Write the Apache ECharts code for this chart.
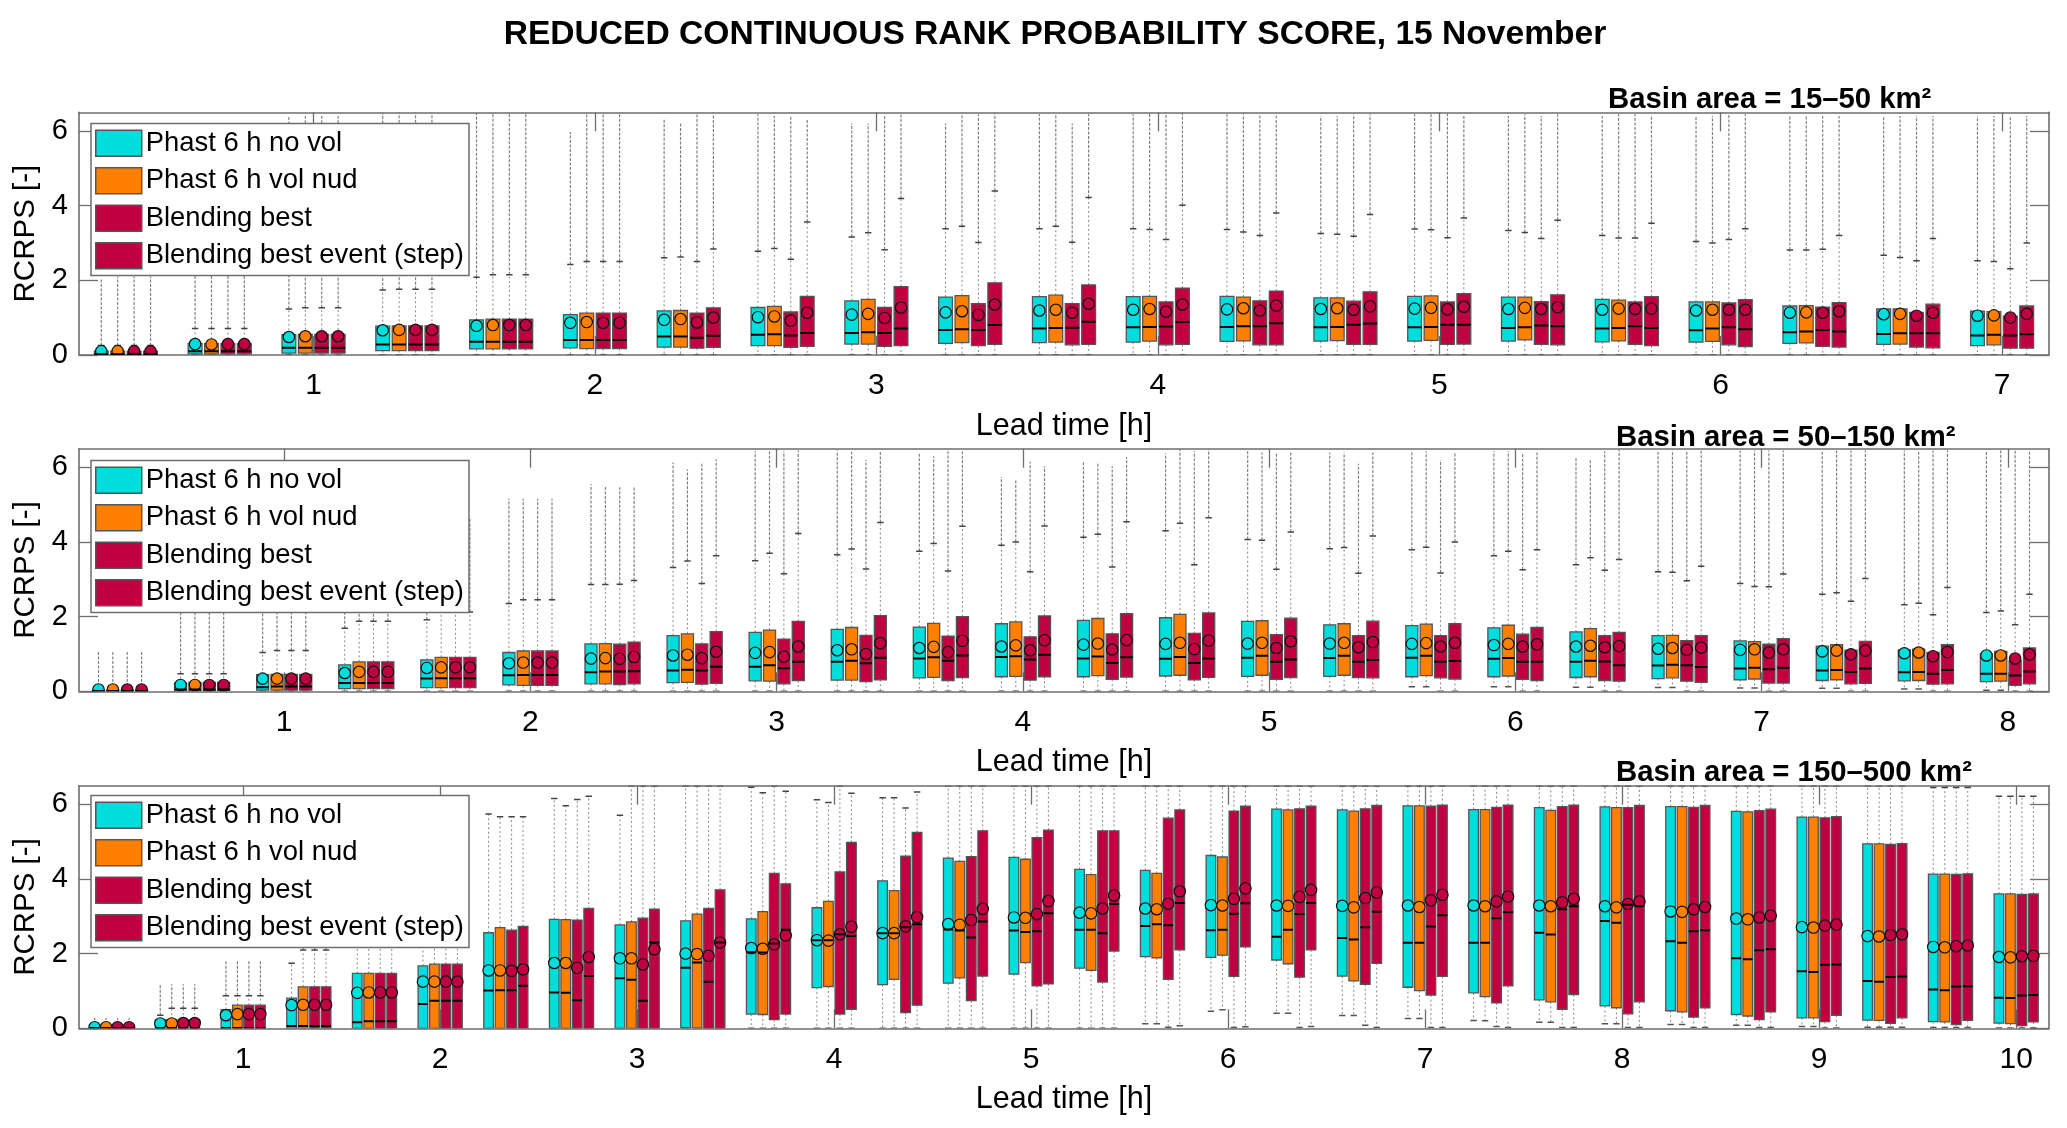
<!DOCTYPE html>
<html><head><meta charset="utf-8">
<style>html,body{margin:0;padding:0;background:#fff}#c{width:2067px;height:1128px}</style>
<script src="https://cdn.jsdelivr.net/npm/echarts@6/dist/echarts.min.js"></script>
</head><body><div id="c"></div>
<script>
const chartTitle="REDUCED CONTINUOUS RANK PROBABILITY SCORE, 15 November";
const methods=["Phast 6 h no vol","Phast 6 h vol nud","Blending best","Blending best event (step)"];
const methodColors=["#00DDDD","#FF8000","#C00040","#C00040"];
const basinLabels=["Basin area = 15–50 km²","Basin area = 50–150 km²","Basin area = 150–500 km²"];
const hours1=[1,2,3,4,5,6,7];
const hours2=[1,2,3,4,5,6,7,8];
const hours3=[1,2,3,4,5,6,7,8,9,10];
const yTicks=[0,2,4,6];

// ---------- Panel 1: one row per lead time step (20 min), four methods in each row
const p1_q1=[[0,0,0,0],[.03,.03,.03,.03],[.05,.05,.05,.05],[.115,.115,.115,.115],[.16,.16,.16,.16],[.19,.17,.17,.17],[.21,.21,.18,.2],[.25,.25,.2,.23],[.29,.29,.23,.25],[.31,.33,.25,.28],[.33,.34,.27,.28],[.34,.37,.27,.28],[.36,.375,.27,.27],[.37,.38,.28,.28],[.37,.39,.28,.29],[.37,.4,.28,.27],[.35,.375,.28,.25],[.34,.36,.27,.22],[.31,.32,.23,.21],[.28,.29,.21,.19],[.25,.27,.18,.18]];
const p1_med=[[.02,.02,.02,.02],[.1,.1,.1,.1],[.19,.19,.19,.19],[.28,.28,.28,.28],[.35,.35,.35,.35],[.4,.4,.4,.4],[.49,.49,.46,.51],[.54,.55,.52,.59],[.59,.61,.59,.71],[.67,.69,.67,.8],[.71,.72,.73,.89],[.74,.75,.76,.88],[.75,.77,.77,.85],[.74,.75,.81,.84],[.74,.75,.81,.81],[.72,.74,.79,.77],[.71,.72,.77,.72],[.66,.71,.74,.69],[.61,.63,.67,.63],[.56,.58,.58,.58],[.52,.54,.52,.55]];
const p1_q3=[[.1,.1,.1,.1],[.31,.3,.3,.3],[.54,.55,.55,.55],[.77,.78,.78,.78],[.94,.96,.96,.96],[1.08,1.12,1.12,1.12],[1.18,1.19,1.12,1.26],[1.27,1.3,1.15,1.57],[1.45,1.49,1.27,1.83],[1.55,1.59,1.37,1.93],[1.56,1.6,1.375,1.875],[1.56,1.57,1.42,1.79],[1.57,1.55,1.45,1.71],[1.53,1.53,1.44,1.69],[1.57,1.58,1.42,1.64],[1.55,1.55,1.43,1.61],[1.49,1.47,1.42,1.56],[1.42,1.42,1.39,1.48],[1.31,1.32,1.28,1.4],[1.23,1.23,1.14,1.36],[1.17,1.16,1.04,1.31]];
const p1_mean=[[.1,.1,.1,.1],[.29,.28,.29,.29],[.48,.5,.5,.5],[.66,.67,.67,.67],[.78,.8,.8,.8],[.86,.88,.86,.86],[.94,.96,.87,1.0],[1.01,1.03,.92,1.13],[1.08,1.1,.99,1.27],[1.14,1.17,1.07,1.35],[1.19,1.21,1.13,1.37],[1.21,1.23,1.16,1.35],[1.22,1.25,1.19,1.32],[1.23,1.25,1.21,1.3],[1.24,1.26,1.22,1.29],[1.23,1.26,1.23,1.28],[1.21,1.24,1.23,1.24],[1.19,1.21,1.21,1.21],[1.13,1.14,1.13,1.17],[1.09,1.1,1.05,1.13],[1.05,1.06,1.0,1.1]];
const p1_lo=[[0,0,0,0],[0,0,0,0],[0,0,0,0],[0,0,0,0],[0,0,0,0],[0,0,0,0],[0,0,0,0],[0,0,0,0],[0,0,0,0],[0,0,0,0],[0,0,0,0],[0,0,0,0],[0,0,0,0],[0,0,0,0],[0,0,0,0],[0,0,0,0],[0,0,0,0],[0,0,0,0],[0,0,0,0],[0,0,0,0],[0,0,0,0]];
const p1_wh=[[.25,.25,.25,.25],[.71,.71,.71,.71],[1.23,1.26,1.26,1.26],[1.74,1.76,1.76,1.76],[2.08,2.15,2.15,2.15],[2.42,2.5,2.5,2.5],[2.6,2.62,2.5,2.84],[2.78,2.85,2.56,3.56],[3.16,3.27,2.82,4.19],[3.38,3.45,3.01,4.39],[3.38,3.45,3.02,4.22],[3.38,3.36,3.09,4.01],[3.36,3.29,3.2,3.8],[3.25,3.23,3.18,3.76],[3.37,3.35,3.14,3.67],[3.33,3.28,3.12,3.61],[3.2,3.13,3.13,3.53],[3.04,3.0,3.09,3.38],[2.81,2.81,2.83,3.2],[2.67,2.61,2.52,3.12],[2.52,2.5,2.31,3.0]];
const p1_top=[[2.05,2.1,2.1,2.1],[2.9,2.9,2.9,2.9],[6.4,6.4,6.4,6.4],[6.5,6.5,6.5,6.5],[6.5,6.5,6.5,6.5],[5.97,6.5,6.5,6.5],[6.3,6.2,6.5,6.5],[6.45,6.4,6.4,6.3],[6.2,6.2,6.4,6.45],[6.2,6.5,6.45,6.5],[6.45,6.45,6.2,6.45],[6.45,6.5,6.5,6.5],[6.45,6.45,6.45,6.45],[6.4,6.4,6.45,6.45],[6.45,6.5,6.5,6.4],[6.4,6.45,6.4,6.45],[6.4,6.45,6.45,6.4],[6.4,6.4,6.45,6.45],[6.4,6.4,6.4,6.4],[6.4,6.4,6.4,6.4],[6.4,6.4,6.4,6.4]];

// ---------- Panel 2
const p2_q1=[[0,0,0,0],[.01,.01,.01,.01],[.03,.03,.03,.03],[.07,.07,.07,.07],[.1,.1,.1,.1],[.17,.16,.16,.16],[.2,.2,.18,.2],[.23,.24,.19,.21],[.28,.27,.2,.29],[.3,.3,.26,.31],[.36,.375,.29,.37],[.39,.4,.3,.39],[.39,.42,.32,.38],[.41,.43,.31,.375],[.4,.43,.32,.37],[.4,.43,.37,.36],[.39,.42,.36,.33],[.39,.41,.32,.29],[.37,.39,.29,.27],[.34,.36,.27,.24],[.31,.33,.22,.22],[.29,.31,.2,.21],[.28,.29,.19,.2],[.26,.27,.16,.2]];
const p2_med=[[.01,.01,.01,.01],[.045,.045,.045,.045],[.11,.13,.13,.13],[.22,.22,.22,.22],[.34,.35,.35,.35],[.43,.44,.44,.44],[.51,.53,.53,.54],[.56,.58,.56,.66],[.66,.7,.62,.79],[.79,.82,.75,.9],[.88,.91,.82,.96],[.92,.94,.85,.98],[.88,.93,.76,.91],[.875,.92,.76,.88],[.9,.955,.79,.85],[.89,.955,.79,.84],[.9,.95,.79,.81],[.87,.89,.79,.79],[.79,.82,.8,.7],[.69,.71,.7,.65],[.61,.63,.59,.63],[.56,.57,.52,.61],[.51,.52,.47,.57],[.47,.47,.42,.53]];
const p2_q3=[[.03,.03,.03,.03],[.22,.24,.24,.24],[.445,.45,.45,.45],[.71,.79,.79,.79],[.84,.91,.91,.91],[1.04,1.08,1.08,1.08],[1.27,1.28,1.26,1.32],[1.49,1.54,1.27,1.6],[1.58,1.64,1.4,1.875],[1.66,1.71,1.5,2.03],[1.72,1.82,1.48,2.0],[1.81,1.86,1.46,2.02],[1.9,1.95,1.54,2.08],[1.97,2.06,1.55,2.1],[1.875,1.89,1.52,1.96],[1.78,1.81,1.49,1.88],[1.76,1.8,1.49,1.81],[1.7,1.77,1.53,1.71],[1.59,1.68,1.49,1.58],[1.49,1.5,1.36,1.49],[1.35,1.33,1.26,1.41],[1.21,1.25,1.1,1.34],[1.11,1.13,1.04,1.25],[1.0,1.07,.82,1.16]];
const p2_mean=[[.05,.05,.05,.05],[.17,.17,.17,.17],[.34,.34,.34,.34],[.49,.52,.52,.52],[.625,.64,.64,.64],[.75,.77,.77,.77],[.875,.89,.87,.92],[.96,.98,.89,1.06],[1.03,1.05,.93,1.2],[1.1,1.125,1.0,1.29],[1.16,1.19,1.05,1.35],[1.2,1.23,1.1,1.37],[1.25,1.28,1.12,1.37],[1.27,1.3,1.13,1.36],[1.28,1.3,1.16,1.34],[1.28,1.3,1.18,1.32],[1.27,1.29,1.2,1.3],[1.24,1.27,1.2,1.26],[1.2,1.22,1.18,1.21],[1.14,1.16,1.11,1.17],[1.11,1.125,1.04,1.125],[1.07,1.09,.99,1.09],[1.02,1.04,.94,1.05],[.96,.96,.88,.99]];
const p2_lo=[[0,0,0,0],[0,0,0,0],[0,0,0,0],[0,0,0,0],[0,0,0,0],[0,0,0,0],[0,0,0,0],[0,0,0,0],[0,0,0,0],[0,0,0,0],[0,0,0,0],[0,0,0,0],[0,0,0,0],[0,0,0,0],[0,0,0,0],[0,0,0,0],[.12,.12,0,0],[.12,.12,0,0],[.11,.11,0,0],[.1,.1,0,0],[.09,.09,0,0],[.08,.08,0,0],[.06,.06,0,0],[.03,.03,0,0]];
const p2_wh=[[.13,.13,.13,.13],[.47,.47,.47,.47],[1.04,1.09,1.09,1.09],[1.69,1.88,1.88,1.88],[1.92,2.125,2.125,2.125],[2.35,2.45,2.45,2.45],[2.86,2.86,2.87,2.97],[3.32,3.49,2.89,3.63],[3.5,3.7,3.15,4.23],[3.66,3.81,3.28,4.52],[3.75,3.96,3.22,4.42],[3.91,4.0,3.2,4.43],[4.13,4.21,3.33,4.54],[4.3,4.5,3.39,4.65],[4.07,4.05,3.27,4.27],[3.82,3.85,3.16,4.16],[3.79,3.86,3.17,4.0],[3.63,3.75,3.26,3.79],[3.39,3.58,3.24,3.53],[3.2,3.19,2.96,3.35],[2.89,2.81,2.8,3.14],[2.6,2.64,2.41,3.02],[2.32,2.36,2.05,2.78],[2.11,2.15,1.78,2.6]];
const p2_top=[[1.07,1.07,1.07,1.07],[2.7,2.7,2.7,2.7],[3.9,3.9,3.9,3.9],[3.9,3.9,3.9,3.9],[4.6,4.6,4.6,4.64],[5.16,5.16,5.16,5.16],[5.55,5.49,5.47,5.49],[6.13,5.94,6.1,6.22],[6.43,6.45,6.43,6.45],[6.45,6.45,6.2,6.45],[6.38,6.3,6.43,6.43],[5.74,5.67,6.15,6.03],[6.15,6.14,6.03,6.28],[6.38,6.47,6.43,6.49],[6.43,6.4,6.4,6.4],[6.4,6.4,6.1,6.4],[6.43,6.43,6.2,6.4],[6.43,6.43,6.4,6.4],[6.25,6.22,6.43,6.47],[6.45,6.45,6.45,6.45],[6.45,6.45,6.45,6.45],[6.45,6.45,6.45,6.45],[6.45,6.45,6.45,6.45],[6.45,6.45,6.45,6.45]];

// ---------- Panel 3
const p3_q1=[[0,0,0,0],[0,0,0,0],[0,0,0,0],[0,0,0,0],[0,0,0,0],[0,0,0,0],[0,0,0,0],[0,0,0,0],[0,0,0,0],[.02,.01,0,0],[.38,.37,.23,.38],[1.09,1.12,.38,.51],[1.17,1.31,.42,.62],[1.21,1.35,.74,1.4],[1.45,1.76,1.14,1.19],[1.61,1.55,1.24,2.07],[1.92,1.89,1.31,2.1],[1.9,1.96,1.39,2.18],[1.83,1.73,1.37,2.1],[1.4,1.27,1.18,1.74],[1.1,1.01,.89,1.39],[.95,.85,.68,1.14],[.76,.71,.51,.9],[.6,.55,.39,.71],[.47,.44,.3,.55],[.37,.33,.23,.44],[.28,.28,.18,.35],[.22,.21,.13,.28],[.18,.17,.1,.21],[.14,.125,.07,.17]];
const p3_med=[[.005,.005,.005,.005],[.01,.01,.01,.01],[.01,.01,.01,.01],[.06,.06,.06,.06],[.16,.19,.19,.19],[.65,.74,.74,.74],[1.01,1.02,1.02,1.14],[.96,.955,.75,1.4],[1.34,1.3,.74,2.3],[1.62,1.76,1.25,2.3],[2.04,2.03,2.27,2.64],[2.36,2.36,2.52,2.47],[2.55,2.55,2.71,2.79],[2.65,2.62,2.43,2.86],[2.62,2.58,2.6,3.08],[2.64,2.64,2.55,3.33],[2.74,2.79,2.76,3.36],[2.63,2.64,3.07,3.35],[2.45,2.64,3.06,3.36],[2.42,2.38,2.71,3.12],[2.29,2.29,2.73,3.03],[2.29,2.29,2.95,3.11],[2.56,2.51,3.19,3.27],[2.875,2.83,3.31,3.28],[2.33,2.29,2.6,2.625],[1.88,1.85,2.09,2.12],[1.53,1.51,1.7,1.71],[1.27,1.25,1.375,1.39],[1.04,1.02,1.12,1.125],[.82,.81,.88,.89]];
const p3_q3=[[.02,.02,.02,.02],[.23,.23,.23,.23],[.5,.62,.62,.62],[.81,1.11,1.11,1.11],[1.47,1.47,1.47,1.47],[1.67,1.72,1.72,1.72],[2.56,2.7,2.63,2.73],[2.92,2.91,2.9,3.21],[2.77,2.85,2.95,3.19],[2.88,3.06,3.21,3.71],[2.93,3.125,4.15,3.87],[3.23,3.4,4.19,4.98],[3.95,3.69,4.61,5.25],[4.56,4.47,4.6,5.29],[4.58,4.53,5.11,5.31],[4.26,4.12,5.29,5.29],[4.23,4.15,5.63,5.85],[4.63,4.59,5.82,5.95],[5.875,5.85,5.88,5.95],[5.85,5.82,5.88,5.97],[5.96,5.96,5.95,5.98],[5.86,5.86,5.92,5.98],[5.91,5.84,5.94,5.98],[5.93,5.91,5.91,5.97],[5.94,5.94,5.92,5.97],[5.81,5.8,5.83,5.87],[5.66,5.66,5.64,5.67],[4.94,4.94,4.93,4.95],[4.13,4.13,4.125,4.14],[3.6,3.6,3.59,3.6]];
const p3_mean=[[.03,.03,.03,.03],[.13,.13,.14,.14],[.35,.38,.38,.38],[.62,.63,.63,.63],[.95,.96,.96,.96],[1.25,1.25,1.25,1.25],[1.55,1.55,1.54,1.58],[1.75,1.75,1.62,1.91],[1.875,1.875,1.71,2.12],[2.0,1.99,1.94,2.3],[2.15,2.13,2.25,2.49],[2.36,2.35,2.52,2.72],[2.55,2.55,2.73,2.98],[2.79,2.77,2.9,3.2],[2.97,2.96,3.06,3.41],[3.1,3.08,3.21,3.56],[3.21,3.19,3.34,3.67],[3.3,3.29,3.47,3.75],[3.29,3.28,3.52,3.71],[3.28,3.24,3.49,3.64],[3.29,3.25,3.43,3.58],[3.29,3.27,3.4,3.53],[3.29,3.27,3.375,3.47],[3.27,3.24,3.33,3.4],[3.13,3.12,3.19,3.25],[2.94,2.92,2.97,3.02],[2.71,2.7,2.75,2.78],[2.47,2.46,2.5,2.52],[2.18,2.17,2.2,2.22],[1.91,1.9,1.93,1.94]];
const p3_lo=[[0,0,0,0],[0,0,0,0],[0,0,0,0],[0,0,0,0],[0,0,0,0],[0,0,0,0],[0,0,0,0],[0,0,0,0],[0,0,0,0],[0,0,0,0],[0,0,0,0],[0,0,0,0],[0,0,0,0],[0,0,0,0],[0,0,0,0],[0,0,0,0],[.12,.12,.03,.07],[.46,.5,.02,.04],[.4,.4,.02,.05],[.34,.34,.08,.02],[.26,.26,.02,.02],[.21,.2,.05,.02],[.16,.16,.02,.02],[.125,.125,.02,.02],[.1,.1,.02,.02],[.08,.08,.02,.02],[.05,.05,.01,.01],[.03,.03,.03,.03],[.02,.02,.02,.02],[.01,.01,.01,.01]];
const p3_wh=[[.1,.1,.1,.1],[.35,.54,.54,.54],[.87,.87,.87,.87],[1.74,2.1,2.1,2.1],[3.0,3.0,3.0,3.0],[3.5,3.5,3.5,3.5],[5.74,5.67,5.67,5.67],[6.16,5.96,6.13,6.22],[5.71,6.5,6.5,6.5],[6.5,6.5,6.5,6.5],[6.46,6.31,6.5,6.35],[6.125,6.05,6.5,6.3],[6.18,6.18,5.9,6.33],[6.5,6.5,6.5,6.5],[6.5,6.5,6.5,6.5],[6.5,6.5,6.5,6.5],[6.5,6.5,6.5,6.5],[6.5,6.5,6.5,6.5],[6.5,6.5,6.5,6.5],[6.5,6.5,6.5,6.5],[6.5,6.5,6.5,6.5],[6.5,6.5,6.5,6.5],[6.5,6.5,6.5,6.5],[6.5,6.5,6.5,6.5],[6.5,6.5,6.5,6.5],[6.5,6.5,6.5,6.5],[6.5,6.5,6.5,6.5],[6.5,6.5,6.5,6.5],[6.45,6.45,6.45,6.45],[6.22,6.22,6.22,6.22]];
const p3_top=[[.28,.28,.28,.28],[1.18,1.18,1.18,1.18],[1.8,1.8,1.8,1.8],[1.74,2.4,2.4,2.4],[3.6,3.6,3.6,3.6],[4.5,4.5,4.5,4.5],[5.74,5.67,5.67,5.67],[6.16,5.96,6.13,6.22],[5.71,6.5,6.5,6.5],[6.5,6.5,6.5,6.5],[6.46,6.31,6.5,6.35],[6.125,6.05,6.5,6.3],[6.18,6.18,5.9,6.33],[6.5,6.5,6.5,6.5],[6.5,6.5,6.5,6.5],[6.5,6.5,6.5,6.5],[6.5,6.5,6.5,6.5],[6.5,6.5,6.5,6.5],[6.5,6.5,6.5,6.5],[6.5,6.5,6.5,6.5],[6.5,6.5,6.5,6.5],[6.5,6.5,6.5,6.5],[6.5,6.5,6.5,6.5],[6.5,6.5,6.5,6.5],[6.5,6.5,6.5,6.5],[6.5,6.5,6.5,6.5],[6.5,6.5,6.5,6.5],[6.5,6.5,6.5,6.5],[6.45,6.45,6.45,6.45],[6.22,6.22,6.22,6.22]];

const panels=[
 {hours:hours1,q1:p1_q1,med:p1_med,q3:p1_q3,mean:p1_mean,lo:p1_lo,wh:p1_wh,top:p1_top},
 {hours:hours2,q1:p2_q1,med:p2_med,q3:p2_q3,mean:p2_mean,lo:p2_lo,wh:p2_wh,top:p2_top},
 {hours:hours3,q1:p3_q1,med:p3_med,q3:p3_q3,mean:p3_mean,lo:p3_lo,wh:p3_wh,top:p3_top}
];
const YMAX=6.5, STEPS_PER_HOUR=3, BOX_PITCH=0.175, BOX_W=0.147;
const FRAME='#6e6e6e', FONT='"Liberation Sans",Arial,sans-serif';
const gridTops=[112.3,448.7,785.7], GRID_H=242.6, GRID_L=79, GRID_W=1970;
const subtitlePos=[[1603,80],[1611,418],[1611,753]];
const legendTops=[123.5,460.5,795.5];

function renderBox(params,api){
  const x=api.value(0), q1=api.value(1), med=api.value(2), q3=api.value(3),
        mean=api.value(4), lo=api.value(5), wh=api.value(6), top=api.value(7);
  const w=api.size([BOX_W,0])[0];
  const P=(v)=>api.coord([x,v]);
  const cx=P(0)[0], Y=v=>P(v)[1];
  const color=api.style().fill;
  const line=(x1,y1,x2,y2,style)=>({type:'line',shape:{x1,y1,x2,y2},style:Object.assign({fill:null},style)});
  const kids=[];
  if(top>wh) kids.push(line(cx,Y(wh),cx,Y(top),{stroke:'#808080',lineWidth:1.2,lineDash:[3,1.5]}));
  kids.push(line(cx,Y(q3),cx,Y(wh),{stroke:'#888',lineWidth:1,lineDash:[2,2.5]}));
  kids.push(line(cx,Y(q1),cx,Y(lo),{stroke:'#888',lineWidth:1,lineDash:[2,2.5]}));
  kids.push(line(cx-3.2,Y(wh),cx+3.2,Y(wh),{stroke:'#444',lineWidth:1.5}));
  kids.push(line(cx-3.2,Y(lo),cx+3.2,Y(lo),{stroke:'#555',lineWidth:1.5}));
  kids.push({type:'rect',shape:{x:cx-w/2,y:Y(q3),width:w,height:Y(q1)-Y(q3)},style:{fill:color,stroke:'#555',lineWidth:1.3}});
  kids.push({type:'circle',shape:{cx,cy:Y(mean),r:5.7},style:{fill:color,stroke:'#111',lineWidth:1.2}});
  kids.push(line(cx-w/2,Y(med),cx+w/2,Y(med),{stroke:'#000',lineWidth:2}));
  return {type:'group',children:kids};
}

const grid=[],xAxis=[],yAxis=[],series=[],legend=[];
const title=[{text:chartTitle,left:1050,top:13,textAlign:'center',textStyle:{fontFamily:FONT,fontWeight:'bold',fontSize:33.6,color:'#000'}}];
panels.forEach((p,i)=>{
  const n=p.q1.length;
  grid.push({left:GRID_L,width:GRID_W,top:gridTops[i],height:GRID_H,outerBoundsMode:'none',containLabel:false});
  const xVals=p.hours.map(h=>h*STEPS_PER_HOUR);
  const tick={show:true,inside:true,length:19,lineStyle:{color:FRAME,width:1.3}};
  const xBase={type:'value',gridIndex:i,min:0.5,max:n+0.5,splitLine:{show:false},
    axisLine:{show:true,onZero:false,lineStyle:{color:FRAME,width:1.6}}};
  xAxis.push(Object.assign({},xBase,{position:'bottom',name:'Lead time [h]',nameLocation:'middle',nameGap:56,
    nameTextStyle:{fontFamily:FONT,fontSize:30.5,color:'#000'},
    axisTick:Object.assign({},tick,{customValues:xVals}),
    axisLabel:{customValues:xVals,margin:16,fontFamily:FONT,fontSize:30,color:'#000',formatter:v=>String(v/STEPS_PER_HOUR)}}));
  const yBase={type:'value',gridIndex:i,min:0,max:YMAX,splitLine:{show:false},
    axisLine:{show:true,onZero:false,lineStyle:{color:FRAME,width:1.6}}};
  yAxis.push(Object.assign({},yBase,{position:'left',name:'RCRPS [-]',nameLocation:'middle',nameGap:33,nameRotate:90,
    nameTextStyle:{fontFamily:FONT,fontSize:29.5,color:'#000'},
    axisTick:Object.assign({},tick,{customValues:yTicks}),
    axisLabel:{customValues:yTicks,margin:11,fontFamily:FONT,fontSize:29,color:'#000',padding:[5,0,0,0]}}));
  methods.forEach((m,k)=>{
    const data=[];
    for(let g=0;g<n;g++){
      data.push([g+1+(k-1.5)*BOX_PITCH,p.q1[g][k],p.med[g][k],p.q3[g][k],p.mean[g][k],p.lo[g][k],p.wh[g][k],p.top[g][k]]);
    }
    series.push({type:'custom',name:m,xAxisIndex:i,yAxisIndex:i,clip:true,silent:true,
      itemStyle:{color:methodColors[k]},renderItem:renderBox,
      encode:{x:0,y:[1,2,3,4,5,6,7]},data});
  });
  legend.push({show:true,data:methods,left:91,top:legendTops[i],orient:'vertical',icon:'rect',
    itemWidth:46,itemHeight:26,itemGap:10,padding:[6,5,6,4],selectedMode:false,
    backgroundColor:'#fff',borderColor:FRAME,borderWidth:1.5,
    itemStyle:{borderColor:'#555',borderWidth:1.5},
    textStyle:{fontFamily:FONT,fontSize:27.4,color:'#000',padding:[0,0,0,-1]},z:10});
  title.push({text:basinLabels[i],left:subtitlePos[i][0],top:subtitlePos[i][1],
    textStyle:{fontFamily:FONT,fontWeight:'bold',fontSize:29.3,color:'#000'}});
});
// frame and inward ticks on the opposite sides
panels.forEach((p,i)=>{
  const n=p.q1.length, xVals=p.hours.map(h=>h*STEPS_PER_HOUR);
  const tick={show:true,inside:true,length:19,lineStyle:{color:FRAME,width:1.3}};
  xAxis.push({type:'value',gridIndex:i,position:'top',min:0.5,max:n+0.5,splitLine:{show:false},
    axisLine:{show:true,onZero:false,lineStyle:{color:FRAME,width:1.6}},
    axisTick:Object.assign({},tick,{customValues:xVals}),axisLabel:{show:false}});
  yAxis.push({type:'value',gridIndex:i,position:'right',min:0,max:YMAX,splitLine:{show:false},
    axisLine:{show:true,onZero:false,lineStyle:{color:FRAME,width:1.6}},
    axisTick:Object.assign({},tick,{customValues:yTicks}),axisLabel:{show:false}});
});
const chart=echarts.init(document.getElementById('c'),null,{renderer:'canvas',width:2067,height:1128});
chart.setOption({animation:false,backgroundColor:'#fff',title,legend,grid,xAxis,yAxis,series});
</script></body></html>
